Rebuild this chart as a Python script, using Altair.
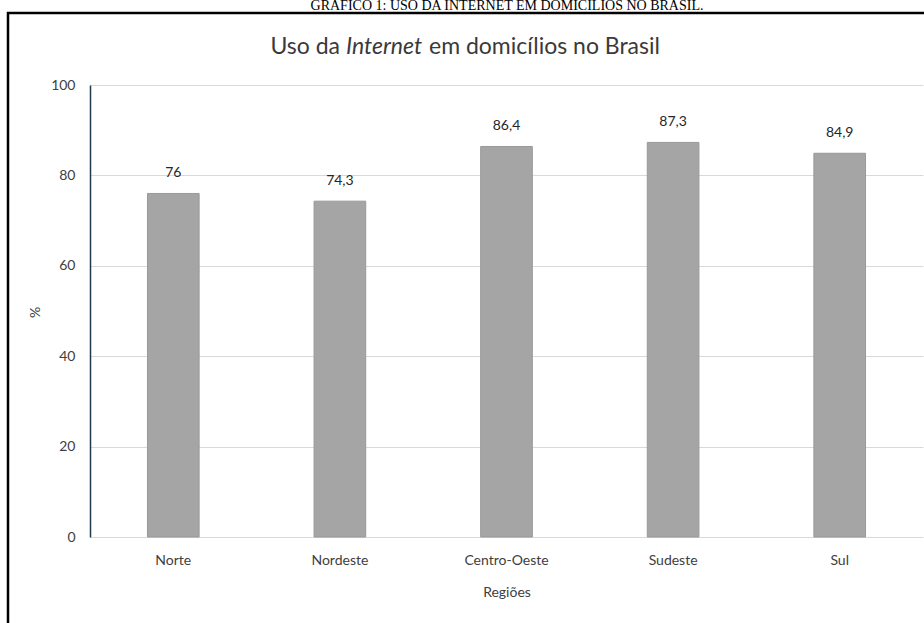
import altair as alt
import pandas as pd

regioes = ["Norte", "Nordeste", "Centro-Oeste", "Sudeste", "Sul"]
valores = [76, 74.3, 86.4, 87.3, 84.9]
y_ticks = [0, 20, 40, 60, 80, 100]

df = pd.DataFrame({"regiao": regioes, "valor": valores})

W, H = 833, 452
PL, PT = 90, 85
FONT = "Lato"

x_enc = alt.X("regiao:N", sort=regioes,
              scale=alt.Scale(paddingInner=0.69, paddingOuter=0.345),
              axis=alt.Axis(title="Regiões", labelAngle=0, domain=False, ticks=False,
                            labelPadding=16, labelFontSize=14, labelColor="#404040",
                            labelFont=FONT, titleFont=FONT, titleFontSize=14,
                            titleFontWeight="normal", titleColor="#404040",
                            titleY=55, titleBaseline="middle"))
y_enc = alt.Y("valor:Q", scale=alt.Scale(domain=[0, 100], nice=False),
              axis=alt.Axis(title="%", values=y_ticks, ticks=False, domain=True,
                            domainColor="#1f3a4d", domainWidth=1.5,
                            gridColor="#d9d9d9", gridWidth=1,
                            labelPadding=15, labelFontSize=14, labelColor="#404040",
                            labelFont=FONT, titleFont=FONT, titleFontSize=14,
                            titleFontWeight="normal", titleColor="#404040",
                            titleAngle=-90, titleX=-55, titleY=227,
                            titleAlign="center", titleBaseline="middle"))

bars = alt.Chart(df).mark_bar(color="#a5a5a5", stroke="#999999", strokeWidth=1).encode(
    x=x_enc, y=y_enc)

labels = alt.Chart(df).transform_calculate(
    rotulo="replace(toString(datum.valor), '.', ',')"
).mark_text(dy=-20, baseline="middle", fontSize=14, font=FONT, color="#262626").encode(
    x=alt.X("regiao:N", sort=regioes),
    y="valor:Q",
    text="rotulo:N")

def txt(s, x, y, **kw):
    return alt.Chart(pd.DataFrame({"t": [s]})).mark_text(**kw).encode(
        x=alt.value(x), y=alt.value(y), text="t:N")

tstyle = dict(fontSize=23, font=FONT, color="#3a3a3a", baseline="middle")
t1 = txt("Uso da", 340 - PL, 47 - PT, align="right", **tstyle)
t2 = txt("Internet", 384 - PL, 47 - PT, align="center", fontStyle="italic", **tstyle)
t3 = txt("em domicílios no Brasil", 429 - PL, 47 - PT, align="left", **tstyle)

header = txt("GRÁFICO 1: USO DA INTERNET EM DOMICÍLIOS NO BRASIL.", 507 - PL, 10 - PT,
             align="center", baseline="alphabetic", fontSize=14,
             font="Liberation Serif", color="#000000")

frame = alt.Chart(pd.DataFrame({"a": [0]})).mark_rect(
    fillOpacity=0, stroke="#000000", strokeWidth=2.5).encode(
    x=alt.value(8 - PL), y=alt.value(13 - PT),
    x2=alt.value(940 - PL), y2=alt.value(640 - PT))

chart = alt.layer(bars, labels, t1, t2, t3, header, frame).properties(
    width=W, height=H,
    autosize=alt.AutoSizeParams(type="none"),
    padding={"left": PL, "top": PT, "right": 924 - PL - W, "bottom": 623 - PT - H},
    background="white",
).configure_view(stroke=None)

chart.save("out.html", embed_options={"renderer": "svg", "actions": False})
